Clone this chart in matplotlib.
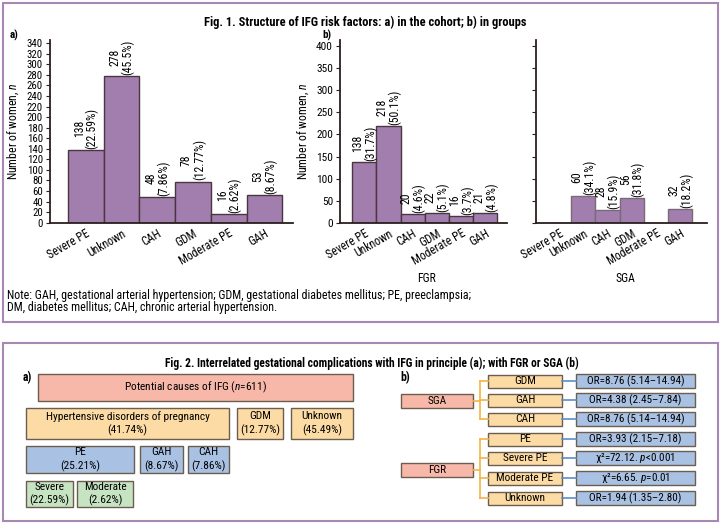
import matplotlib.pyplot as plt
from matplotlib.patches import Rectangle

FAM = ['Roboto Condensed', 'Liberation Sans', 'DejaVu Sans']
plt.rcParams['font.family'] = FAM
plt.rcParams['mathtext.fontset'] = 'custom'
plt.rcParams['mathtext.it'] = 'Roboto Condensed:italic'
plt.rcParams['mathtext.rm'] = 'Roboto Condensed'

# ---- data ----
categories = ["Severe PE", "Unknown", "CAH", "GDM", "Moderate PE", "GAH"]
cohort_n = [138, 278, 48, 78, 16, 53]
cohort_pct = ["22.59%", "45.5%", "7.86%", "12.77%", "2.62%", "8.67%"]
fgr_n = [138, 218, 20, 22, 16, 21]
fgr_pct = ["31.7%", "50.1%", "4.6%", "5.1%", "3.7%", "4.8%"]
sga_n = [0, 60, 28, 56, 0, 32]
sga_pct = ["", "34.1%", "15.9%", "31.8%", "", "18.2%"]

sga_factors = ["GDM", "GAH", "CAH"]
sga_stats = ["OR=8.76 (5.14–14.94)", "OR=4.38 (2.45–7.84)", "OR=8.76 (5.14–14.94)"]
fgr_factors = ["PE", "Severe PE", "Moderate PE", "Unknown"]
fgr_stats = ["OR=3.93 (2.15–7.18)", "χ²=72.12. $p$<0.001", "χ²=6.65. $p$=0.01",
             "OR=1.94 (1.35–2.80)"]

BAR = "#a27eae"
BAR_EDGE = "#4a3640"
FRAME = "#a987b3"
SALMON = "#f7b8aa"
ORANGE = "#fcdba4"
BLUE = "#a9c1e3"
GREEN = "#c6e4c2"
BOX_EDGE = "#6b5d50"
AXC = "#2b1f1f"

W, H = 720, 523
fig = plt.figure(figsize=(7.2, 5.23), dpi=100)

# overlay in pixel coordinates
ov = fig.add_axes([0, 0, 1, 1])
ov.set_xlim(0, W)
ov.set_ylim(H, 0)
ov.axis("off")

ov.add_patch(Rectangle((2.5, 2.5), 715, 319, fill=False, ec=FRAME, lw=1.5))
ov.add_patch(Rectangle((2.5, 342.5), 715, 178, fill=False, ec=FRAME, lw=1.5))

ov.text(365, 22, "Fig. 1. Structure of IFG risk factors: a) in the cohort; b) in groups",
        ha="center", va="center", fontsize=9, fontweight="bold")
ov.text(10, 35, "a)", ha="left", va="center", fontsize=8, fontweight="bold")
ov.text(322, 35, "b)", ha="left", va="center", fontsize=8, fontweight="bold")
ov.text(427, 279, "FGR", ha="center", va="center", fontsize=8.5)
ov.text(625, 279, "SGA", ha="center", va="center", fontsize=8.5)
ov.text(7, 295, "Note: GAH, gestational arterial hypertension; GDM, gestational diabetes "
        "mellitus; PE, preeclampsia;", ha="left", va="center", fontsize=8.6)
ov.text(7, 308, "DM, diabetes mellitus; CAH, chronic arterial hypertension.",
        ha="left", va="center", fontsize=8.6)


def px_axes(left, right, top, bottom):
    return fig.add_axes([left / W, (H - bottom) / H, (right - left) / W,
                         (bottom - top) / H])


def bar_panel(ax, vals, pcts, xlim, ylim, yticks, show_ylab, edge, ysize):
    x = range(len(vals))
    ax.bar(x, vals, width=1.0, color=BAR, edgecolor=edge, linewidth=1.0, zorder=2)
    for i, (v, p) in enumerate(zip(vals, pcts)):
        if p:
            ax.text(i, v + 2 * ylim / 345, f"{v}\n({p})", rotation=90,
                    ha="center", va="bottom", fontsize=8.5, linespacing=0.95)
    ax.set_xlim(*xlim)
    ax.set_ylim(0, ylim)
    ax.set_yticks(yticks)
    ax.set_xticks(list(x))
    ax.set_xticklabels(categories, rotation=30, ha="right", rotation_mode="anchor",
                       fontsize=8.5)
    ax.tick_params(axis="x", length=0, pad=3)
    ax.tick_params(axis="y", length=3, width=0.8, color=AXC, labelsize=ysize, pad=2)
    for s in ("top", "right"):
        ax.spines[s].set_visible(False)
    for s in ("left", "bottom"):
        ax.spines[s].set_color(AXC)
        ax.spines[s].set_linewidth(1.3)
    ax.patch.set_alpha(0)
    if show_ylab:
        ax.set_ylabel("Number of women, $n$", fontsize=8.5, labelpad=4)
    else:
        ax.set_yticklabels([])


ax_a = px_axes(50, 293, 40, 222.7)
bar_panel(ax_a, cohort_n, cohort_pct, (-1.0, 5.8), 346, range(0, 341, 20), True,
          BAR_EDGE, 7.8)
ax_f = px_axes(340, 507, 40, 222.7)
bar_panel(ax_f, fgr_n, fgr_pct, (-1.0, 5.9), 414, range(0, 401, 50), True, BAR_EDGE,
          8.2)
ax_s = px_axes(536, 707, 40, 222.7)
bar_panel(ax_s, sga_n, sga_pct, (-0.95, 6.1), 414, range(0, 401, 50), False,
          "#7a6a78", 8.2)

# ---- Fig. 2 ----
ov.text(372, 363, "Fig. 2. Interrelated gestational complications with IFG in principle "
        "(a); with FGR or SGA (b)", ha="center", va="center", fontsize=8.3,
        fontweight="bold")
ov.text(27, 378, "a)", ha="center", va="center", fontsize=8.5, fontweight="bold")
ov.text(405, 378, "b)", ha="center", va="center", fontsize=8.5, fontweight="bold")


def box(x0, x1, y0, y1, color, label, fs=8.2):
    ov.add_patch(Rectangle((x0, y0), x1 - x0, y1 - y0, fc=color, ec=BOX_EDGE, lw=1.0))
    ov.text((x0 + x1) / 2, (y0 + y1) / 2, label, ha="center", va="center",
            fontsize=fs, linespacing=1.3)


box(38, 353, 374, 401, SALMON, "Potential causes of IFG ($n$=611)")
box(26, 229, 408, 439, ORANGE, "Hypertensive disorders of pregnancy\n(41.74%)")
box(237, 283, 408, 439, ORANGE, "GDM\n(12.77%)")
box(291, 353, 408, 439, ORANGE, "Unknown\n(45.49%)")
box(26, 134, 446, 473, BLUE, "PE\n(25.21%)")
box(140, 183, 446, 473, BLUE, "GAH\n(8.67%)")
box(188, 229, 446, 473, BLUE, "CAH\n(7.86%)")
box(26, 73, 481, 507, GREEN, "Severe\n(22.59%)")
box(77, 133, 481, 507, GREEN, "Moderate\n(2.62%)")

LINE_O = "#f2b446"
LINE_B = "#5f8bc8"
row_y = [381, 400, 419, 439, 458, 478, 498]


def group(name, yc, factors, stats, ys):
    box(401, 473, yc - 7, yc + 7, SALMON, name)
    ov.plot([473, 480], [yc, yc], color=LINE_O, lw=1.2)
    ov.plot([480, 480], [ys[0], ys[-1]], color=LINE_O, lw=1.2)
    for f, s, y in zip(factors, stats, ys):
        ov.plot([480, 488], [y, y], color=LINE_O, lw=1.2)
        box(488, 562, y - 6.5, y + 6.5, ORANGE, f)
        ov.plot([562, 576], [y, y], color=LINE_B, lw=1.2)
        box(576, 695, y - 7, y + 7, BLUE, s, fs=8.0)


group("SGA", 401, sga_factors, sga_stats, row_y[:3])
group("FGR", 470, fgr_factors, fgr_stats, row_y[3:])

fig.savefig("out.png", dpi=100)
